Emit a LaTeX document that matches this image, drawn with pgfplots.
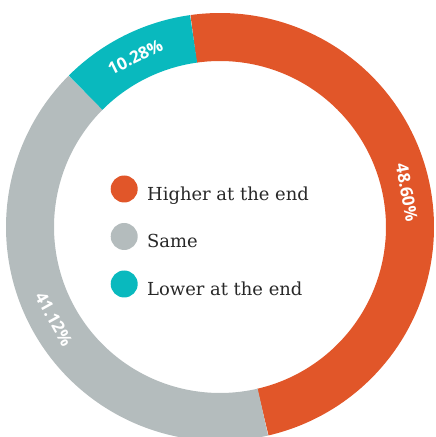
\documentclass[border=0pt]{standalone}
\usepackage{pgfplots}
\pgfplotsset{compat=1.18}
\usepackage{pgfplotstable}
\usepackage{fontspec}
\setmainfont{DejaVu Serif}
\newfontfamily\labelfont{Open Sans}

\definecolor{cHigher}{RGB}{225,86,41}
\definecolor{cSame}{RGB}{180,188,189}
\definecolor{cLower}{RGB}{9,185,190}
\definecolor{legtext}{RGB}{40,40,40}

% shares in percent, clockwise from the top
\pgfplotstableread{
share
48.60
41.12
10.28
}\shares

\pgfplotstablegetelem{0}{share}\of\shares \let\sA\pgfplotsretval
\pgfplotstablegetelem{1}{share}\of\shares \let\sB\pgfplotsretval
\pgfplotstablegetelem{2}{share}\of\shares \let\sC\pgfplotsretval
\pgfmathsetmacro\start{98}
\pgfmathsetmacro\endA{\start-3.6*\sA}
\pgfmathsetmacro\endB{\endA-3.6*\sB}
\pgfmathsetmacro\endC{\endB-3.6*\sC}
\pgfmathsetmacro\midA{(\start+\endA)/2}
\pgfmathsetmacro\midB{(\endA+\endB)/2}
\pgfmathsetmacro\midC{(\endB+\endC)/2}

\begin{document}
\begin{tikzpicture}
\begin{axis}[
    scale only axis,
    width=436bp, height=437bp,
    xmin=-220, xmax=216,
    ymin=-210, ymax=227,
    hide axis,
    clip=true,
    legend image code/.code={\fill[draw=none, line width=0pt] (13.5bp,5.5bp) circle (13.5bp);},
    legend cell align=left,
    legend style={
        draw=none, fill=none,
        at={(axis cs:-109.5,-9.5)}, anchor=west,
        font=\fontsize{18}{20}\selectfont,
        text=legtext,
        row sep=20.5bp,
        inner sep=0pt,
        nodes={inner sep=0pt},
        /tikz/every odd column/.append style={column sep=9.5bp},
    },
]
\addplot[color=cHigher, line width=48bp, line cap=butt, domain=\endA:\start, samples=150]
    ({190*cos(x)},{190*sin(x)});
\addlegendentry{Higher at the end}
\addplot[color=cSame, line width=48bp, line cap=butt, domain=\endB:\endA, samples=150]
    ({190*cos(x)},{190*sin(x)});
\addlegendentry{Same}
\addplot[color=cLower, line width=48bp, line cap=butt, domain=\endC:\endB, samples=60]
    ({190*cos(x)},{190*sin(x)});
\addlegendentry{Lower at the end}

\node[rotate=\midA-90, text=white, font=\labelfont\bfseries\fontsize{17}{17}\selectfont]
    at (axis cs:{190*cos(\midA)},{190*sin(\midA)}) {\sA\%};
\node[rotate=\midB+90, text=white, font=\labelfont\bfseries\fontsize{17}{17}\selectfont]
    at (axis cs:{190*cos(\midB)},{190*sin(\midB)}) {\sB\%};
\node[rotate=\midC-90, text=white, font=\labelfont\bfseries\fontsize{17}{17}\selectfont]
    at (axis cs:{190*cos(\midC)},{190*sin(\midC)}) {\sC\%};
\end{axis}
\pgfresetboundingbox
\useasboundingbox (current axis.south west) rectangle (current axis.north east);
\end{tikzpicture}
\end{document}
